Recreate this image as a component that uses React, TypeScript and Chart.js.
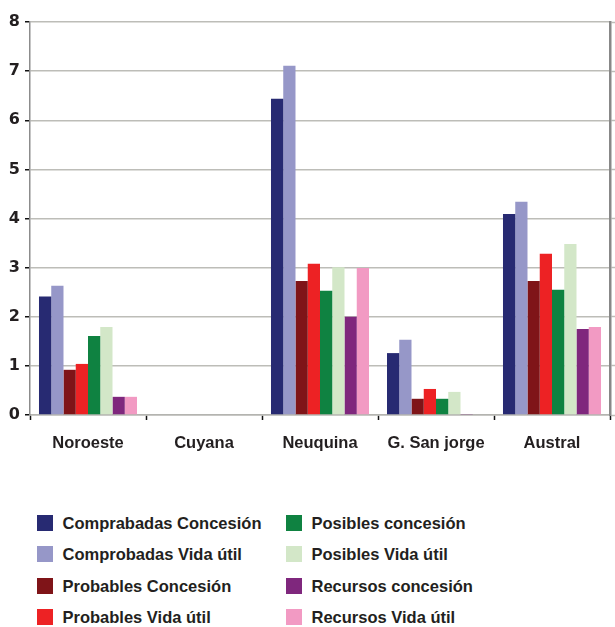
import React, { useEffect, useRef } from "react";
import { Chart, registerables } from "chart.js";

Chart.register(...registerables);

const categories = ["Noroeste", "Cuyana", "Neuquina", "G. San jorge", "Austral"];
const yTicks = [0, 1, 2, 3, 4, 5, 6, 7, 8];

const comprabadasConcesion = [2.41, 0, 6.44, 1.26, 4.09];
const comprobadasVidaUtil = [2.63, 0, 7.11, 1.53, 4.34];
const probablesConcesion = [0.92, 0, 2.73, 0.33, 2.73];
const probablesVidaUtil = [1.04, 0, 3.08, 0.53, 3.28];
const posiblesConcesion = [1.61, 0, 2.53, 0.33, 2.55];
const posiblesVidaUtil = [1.79, 0, 3.01, 0.47, 3.48];
const recursosConcesion = [0.37, 0, 2.0, 0.02, 1.75];
const recursosVidaUtil = [0.37, 0, 2.99, 0, 1.79];

const seriesLabels = [
  "Comprabadas Concesión",
  "Comprobadas Vida útil",
  "Probables Concesión",
  "Probables Vida útil",
  "Posibles concesión",
  "Posibles Vida útil",
  "Recursos concesión",
  "Recursos Vida útil",
];
const seriesValues = [
  comprabadasConcesion,
  comprobadasVidaUtil,
  probablesConcesion,
  probablesVidaUtil,
  posiblesConcesion,
  posiblesVidaUtil,
  recursosConcesion,
  recursosVidaUtil,
];
const seriesColors = [
  "#272a72",
  "#9697c8",
  "#7f1418",
  "#ed2224",
  "#0f8241",
  "#d3e7c8",
  "#7f277d",
  "#f29ac3",
];

const TEXT = "#231f20";
const LABEL_FONT = "'Liberation Sans', Arial, sans-serif";

export default function App() {
  const canvasRef = useRef<HTMLCanvasElement | null>(null);

  useEffect(() => {
    if (!canvasRef.current) return;
    const chart = new Chart(canvasRef.current, {
      type: "bar",
      data: {
        labels: categories,
        datasets: seriesLabels.map((label, i) => ({
          label,
          data: seriesValues[i],
          backgroundColor: seriesColors[i],
          borderWidth: 0,
          categoryPercentage: 0.845,
          barPercentage: 1,
        })),
      },
      options: {
        animation: false,
        responsive: true,
        maintainAspectRatio: false,
        layout: { padding: { top: 22, left: 0, right: 0, bottom: 0 } },
        plugins: {
          legend: { display: false },
          tooltip: { enabled: false },
        },
        scales: {
          x: {
            offset: true,
            grid: {
              offset: true,
              drawOnChartArea: false,
              drawTicks: true,
              tickLength: 5,
              tickColor: "#111",
              tickWidth: 1.5,
            },
            border: { display: true, color: "#b4b4b0", width: 1.5 },
            ticks: {
              color: TEXT,
              padding: 14,
              font: { family: LABEL_FONT, size: 16.5, weight: "bold" },
              maxRotation: 0,
              autoSkip: false,
            },
            afterFit: (scale: any) => {
              scale.height = 45;
            },
          },
          y: {
            position: "left",
            min: 0,
            max: 8,
            afterBuildTicks: (scale: any) => {
              scale.ticks = yTicks.map((v) => ({ value: v }));
            },
            grid: {
              color: "#bdbdb8",
              lineWidth: 1.5,
              drawTicks: true,
              tickLength: 5,
              tickColor: "#111",
              tickWidth: 1.5,
            },
            border: { display: true, color: "#8c8c8c", width: 1.5 },
            ticks: {
              color: TEXT,
              padding: 5,
              font: { family: "'DejaVu Sans', sans-serif", size: 16, weight: "bold" },
            },
            afterFit: (scale: any) => {
              scale.width = 30;
            },
          },
          yRight: {
            position: "right",
            min: 0,
            max: 8,
            afterBuildTicks: (scale: any) => {
              scale.ticks = yTicks.map((v) => ({ value: v }));
            },
            grid: {
              drawOnChartArea: false,
              drawTicks: true,
              tickLength: 5,
              tickColor: "#bdbdb8",
              tickWidth: 1.5,
            },
            border: { display: true, color: "#888888", width: 2.5 },
            ticks: { display: false },
            afterFit: (scale: any) => {
              scale.width = 5;
            },
          },
        },
      },
    });
    return () => chart.destroy();
  }, []);

  return (
    <div
      style={{
        position: "absolute",
        left: 0,
        top: 0,
        width: 615,
        height: 627,
        background: "#ffffff",
        fontFamily: LABEL_FONT,
      }}
    >
      <div style={{ position: "absolute", left: 0, top: 0, width: 615, height: 460 }}>
        <canvas ref={canvasRef} />
      </div>
      {seriesLabels.map((label, i) => {
        const col = Math.floor(i / 4);
        const row = i % 4;
        const left = col === 0 ? 37 : 286;
        const top = 514.5 + row * 31.5;
        return (
          <div
            key={label}
            style={{
              position: "absolute",
              left,
              top,
              height: 16,
              display: "flex",
              alignItems: "center",
              whiteSpace: "nowrap",
            }}
          >
            <span
              style={{
                display: "inline-block",
                width: 16,
                height: 16,
                background: seriesColors[i],
                marginRight: 9.5,
              }}
            />
            <span
              style={{
                color: TEXT,
                fontWeight: "bold",
                fontSize: 16.5,
                lineHeight: "16px",
              }}
            >
              {label}
            </span>
          </div>
        );
      })}
    </div>
  );
}
